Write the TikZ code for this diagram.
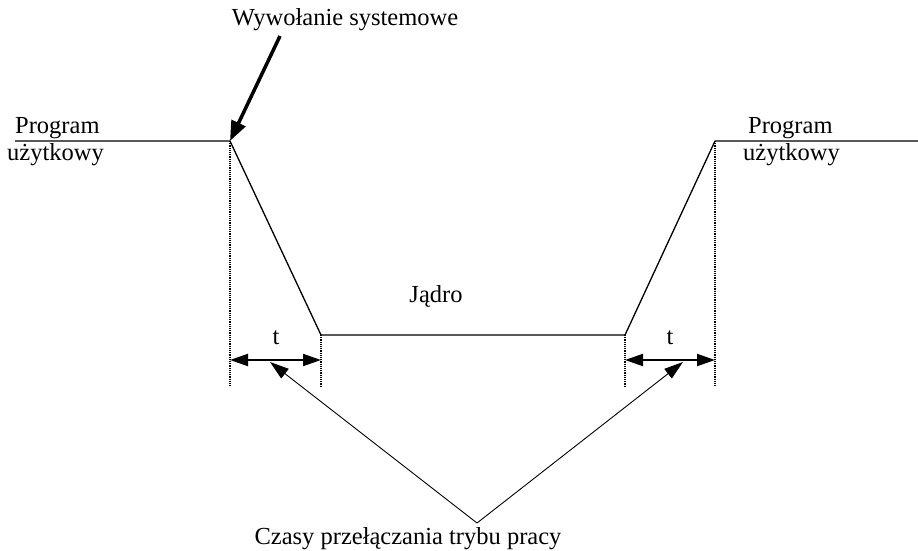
\documentclass[tikz,border=0pt]{standalone}
\usepackage{fontspec}
\setmainfont{Liberation Serif}
\usetikzlibrary{arrows.meta}
\begin{document}
\begin{tikzpicture}[x=1pt,y=-1pt,
  lbl/.style={font=\fontsize{24.5}{26}\selectfont, inner sep=0pt},
  wave/.style={line width=1.3pt},
  guide/.style={line width=1.2pt, densely dotted},
  dim/.style={line width=2pt, {Triangle[length=18pt,width=12pt]}-{Triangle[length=18pt,width=12pt]}},
  pointer/.style={line width=0.9pt, -{Triangle[length=19pt,width=12pt]}},
  callarrow/.style={line width=3.5pt, -{Triangle[length=20pt,width=15pt]}}]
\useasboundingbox (0,0) rectangle (918,551);
% trace coordinates
\coordinate (L0) at (15,141);
\coordinate (A) at (230,141);
\coordinate (B) at (321,335);
\coordinate (C) at (625,335);
\coordinate (D) at (715,141);
\coordinate (R0) at (918,141);
\draw[wave] (L0) -- (A) -- (B) -- (C) -- (D) -- (R0);
% guides
\coordinate (Ab) at (230,386);
\coordinate (Bb) at (321,386);
\coordinate (Cb) at (625,386);
\coordinate (Db) at (715,386);
\draw[guide] (A) -- (Ab);
\draw[guide] (B) -- (Bb);
\draw[guide] (C) -- (Cb);
\draw[guide] (D) -- (Db);
% dimension arrows
\coordinate (d1a) at (230,360);
\coordinate (d1b) at (321,360);
\coordinate (d2a) at (625,360);
\coordinate (d2b) at (715,360);
\draw[dim] (d1a) -- (d1b);
\draw[dim] (d2a) -- (d2b);
\node[lbl] (t1) at (276,338) {t};
\node[lbl] (t2) at (670,338) {t};
% labels
\node[lbl] (kern) at (436,296) {Jądro};
\node[lbl, anchor=west] (pl1) at (15,128) {Program};
\node[lbl, anchor=west] (pl2) at (7,155) {użytkowy};
\node[lbl, anchor=west] (pr1) at (748,128) {Program};
\node[lbl, anchor=west] (pr2) at (743,155) {użytkowy};
\node[lbl] (call) at (345,20) {Wywołanie systemowe};
\coordinate (callstart) at (280,36);
\draw[callarrow] (callstart) -- (A);
% switching times
\node[lbl] (sw) at (408,539) {Czasy przełączania trybu pracy};
\coordinate (apex) at (477,523);
\coordinate (p1) at (270,362);
\coordinate (p2) at (683,362);
\draw[pointer] (apex) -- (p1);
\draw[pointer] (apex) -- (p2);
\end{tikzpicture}
\end{document}
